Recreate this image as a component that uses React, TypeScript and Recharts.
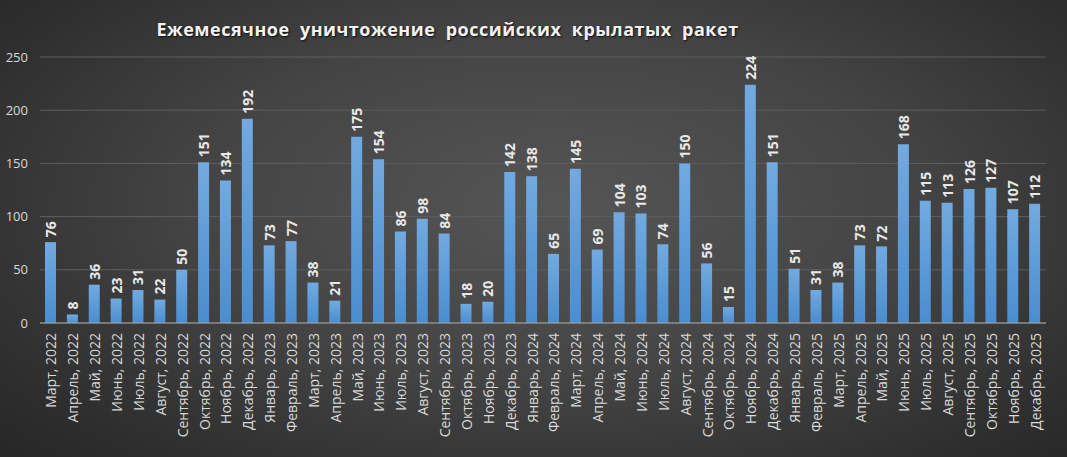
import React from "react";
import { BarChart, Bar, XAxis, YAxis, CartesianGrid, LabelList } from "recharts";

const months: string[] = [
  "Март, 2022", "Апрель, 2022", "Май, 2022", "Июнь, 2022", "Июль, 2022", "Август, 2022",
  "Сентябрь, 2022", "Октябрь, 2022", "Ноябрь, 2022", "Декабрь, 2022",
  "Январь, 2023", "Февраль, 2023", "Март, 2023", "Апрель, 2023", "Май, 2023", "Июнь, 2023",
  "Июль, 2023", "Август, 2023", "Сентябрь, 2023", "Октябрь, 2023", "Ноябрь, 2023", "Декабрь, 2023",
  "Январь, 2024", "Февраль, 2024", "Март, 2024", "Апрель, 2024", "Май, 2024", "Июнь, 2024",
  "Июль, 2024", "Август, 2024", "Сентябрь, 2024", "Октябрь, 2024", "Ноябрь, 2024", "Декабрь, 2024",
  "Январь, 2025", "Февраль, 2025", "Март, 2025", "Апрель, 2025", "Май, 2025", "Июнь, 2025",
  "Июль, 2025", "Август, 2025", "Сентябрь, 2025", "Октябрь, 2025", "Ноябрь, 2025", "Декабрь, 2025",
];

const missiles: number[] = [
  76, 8, 36, 23, 31, 22, 50, 151, 134, 192,
  73, 77, 38, 21, 175, 154, 86, 98, 84, 18, 20, 142,
  138, 65, 145, 69, 104, 103, 74, 150, 56, 15, 224, 151,
  51, 31, 38, 73, 72, 168, 115, 113, 126, 127, 107, 112,
];

const yTicks: number[] = [0, 50, 100, 150, 200, 250];

const title = "Ежемесячное  уничтожение  российских  крылатых  ракет";

const data = months.map((m, i) => ({ month: m, value: missiles[i] }));

const FONT = "'Open Sans', 'Noto Sans', sans-serif";

const XTick = (props: any) => {
  const { x, y, payload } = props;
  return (
    <text
      x={x}
      y={y}
      transform={`rotate(-90, ${x}, ${y})`}
      textAnchor="end"
      dominantBaseline="central"
      fill="#d9d9d9"
      fontSize={14}
      fontFamily={FONT}
    >
      {payload.value}
    </text>
  );
};

const ValueLabel = (props: any) => {
  const { x, y, width, value } = props;
  const cx = Number(x) + Number(width) / 2;
  const ty = Number(y) - 5;
  return (
    <text
      x={cx}
      y={ty}
      transform={`rotate(-90, ${cx}, ${ty})`}
      textAnchor="start"
      dominantBaseline="central"
      fill="#e8e8e8"
      fontSize={14}
      fontWeight="bold"
      fontFamily={FONT}
    >
      {value}
    </text>
  );
};

export default function App() {
  return (
    <div
      style={{
        position: "absolute",
        left: 0,
        top: 0,
        width: 1067,
        height: 457,
        background:
          "radial-gradient(ellipse 75% 85% at 52% 45%, #555555 0%, #444444 45%, #2e2e2e 80%, #242424 100%)",
        overflow: "hidden",
      }}
    >
      <div
        style={{
          position: "absolute",
          left: 0,
          width: 895,
          top: 17,
          textAlign: "center",
          color: "#f2f2f2",
          fontFamily: FONT,
          fontWeight: 700,
          fontSize: 18,
          letterSpacing: 0.5,
          whiteSpace: "pre",
          textShadow: "1px 1px 2px rgba(0,0,0,0.8)",
        }}
      >
        {title}
      </div>
      <BarChart
        width={1067}
        height={457}
        data={data}
        margin={{ top: 57, right: 21, bottom: 0, left: 0 }}
        barSize={11}
      >
        <defs>
          <linearGradient id="barGrad" x1="0" y1="0" x2="0" y2="1">
            <stop offset="0%" stopColor="#72aae0" />
            <stop offset="100%" stopColor="#4a8dcf" />
          </linearGradient>
        </defs>
        <CartesianGrid vertical={false} stroke="#5e5e5e" strokeWidth={1} />
        <XAxis
          dataKey="month"
          interval={0}
          height={134}
          tick={<XTick />}
          tickLine={false}
          axisLine={{ stroke: "#a6a6a6", strokeWidth: 1 }}
          tickMargin={4}
        />
        <YAxis
          domain={[0, 250]}
          ticks={yTicks}
          width={40}
          tickLine={false}
          axisLine={false}
          tickMargin={6}
          tick={{ fill: "#d9d9d9", fontSize: 13, fontFamily: FONT }}
        />
        <Bar dataKey="value" fill="url(#barGrad)" isAnimationActive={false}>
          <LabelList dataKey="value" content={<ValueLabel />} />
        </Bar>
      </BarChart>
    </div>
  );
}
